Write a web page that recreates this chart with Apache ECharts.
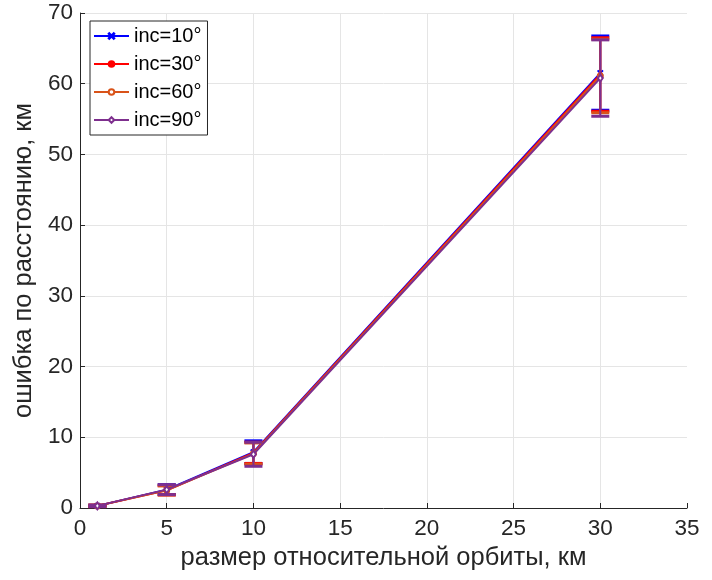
<!DOCTYPE html>
<html>
<head>
<meta charset="utf-8">
<script src="https://cdn.jsdelivr.net/npm/echarts@6/dist/echarts.min.js"></script>
<style>
  html, body { margin: 0; padding: 0; background: #fff; }
  #chart { width: 712px; height: 580px; }
</style>
</head>
<body>
<div id="chart"></div>
<script>
// Relative orbit size, km
const orbitSize = [1, 5, 10, 30];

// Inclination cases
const seriesNames = ['inc=10°', 'inc=30°', 'inc=60°', 'inc=90°'];

// Mean range error, km
const meanInc10 = [0.3, 2.6, 7.9, 61.5];
const meanInc30 = [0.3, 2.5, 7.8, 61.3];
const meanInc60 = [0.3, 2.5, 7.7, 61.1];
const meanInc90 = [0.3, 2.6, 7.6, 60.8];

// Half-width of the error bars, km
const errInc10 = [0.1, 0.7, 1.6, 5.25];
const errInc30 = [0.1, 0.65, 1.5, 5.2];
const errInc60 = [0.1, 0.65, 1.5, 5.2];
const errInc90 = [0.1, 0.7, 1.7, 5.4];

// Axis ticks
const xTicks = [0, 5, 10, 15, 20, 25, 30, 35];
const yTicks = [0, 10, 20, 30, 40, 50, 60, 70];

const colors = ['#0000ff', '#ff0000', '#d95319', '#7e2f8e'];
const means = [meanInc10, meanInc30, meanInc60, meanInc90];
const errs = [errInc10, errInc30, errInc60, errInc90];

const crossPath = 'path://M1,0 L5,4 L9,0 L10,1 L6,5 L10,9 L9,10 L5,6 L1,10 L0,9 L4,5 L0,1 Z';
const symbols = [crossPath, 'circle', 'emptyCircle', 'emptyDiamond'];
const symbolSizes = [5, 4, 5, [5, 7]];

const axisColor = '#262626';
const fontFamily = '"Liberation Sans", Arial, sans-serif';

function errorBarSeries(idx) {
  const color = colors[idx];
  const data = orbitSize.map((x, i) => [x, means[idx][i] - errs[idx][i], means[idx][i] + errs[idx][i]]);
  return {
    type: 'custom',
    name: seriesNames[idx] + ' err',
    data: data,
    encode: { x: 0, y: [1, 2] },
    z: 2 + idx * 2,
    silent: true,
    renderItem: function (params, api) {
      const x = api.value(0);
      const lo = api.coord([x, api.value(1)]);
      const hi = api.coord([x, api.value(2)]);
      const hw = 9;
      const st = { stroke: color, lineWidth: 2 };
      const capSt = { stroke: color, lineWidth: 3 };
      return {
        type: 'group',
        children: [
          { type: 'line', shape: { x1: lo[0], y1: lo[1], x2: hi[0], y2: hi[1] }, style: st },
          { type: 'line', shape: { x1: lo[0] - hw, y1: lo[1], x2: lo[0] + hw, y2: lo[1] }, style: capSt },
          { type: 'line', shape: { x1: hi[0] - hw, y1: hi[1], x2: hi[0] + hw, y2: hi[1] }, style: capSt }
        ]
      };
    }
  };
}

function lineSeries(idx) {
  return {
    type: 'line',
    name: seriesNames[idx],
    data: orbitSize.map((x, i) => [x, means[idx][i]]),
    symbol: symbols[idx],
    symbolSize: symbolSizes[idx],
    showAllSymbol: true,
    z: 3 + idx * 2,
    color: colors[idx],
    lineStyle: { color: colors[idx], width: 2 },
    itemStyle: { color: colors[idx], borderColor: colors[idx], borderWidth: 1.2 },
    emphasis: { disabled: true }
  };
}

const series = [];
for (let i = 0; i < 4; i++) {
  series.push(errorBarSeries(i));
  series.push(lineSeries(i));
}

const chart = echarts.init(document.getElementById('chart'), null, { renderer: 'canvas' });
chart.setOption({
  animation: false,
  backgroundColor: '#ffffff',
  textStyle: { fontFamily: fontFamily },
  grid: { left: 80, right: 25, top: 13, bottom: 72, containLabel: false },
  legend: {
    data: seriesNames,
    orient: 'vertical',
    left: 90,
    top: 21,
    itemWidth: 35,
    itemHeight: 7,
    itemGap: 8,
    padding: [5, 6, 5, 3],
    borderColor: axisColor,
    borderWidth: 1,
    backgroundColor: '#ffffff',
    textStyle: { fontSize: 20, color: '#000000', fontFamily: fontFamily }
  },
  xAxis: {
    type: 'value',
    min: xTicks[0],
    max: xTicks[xTicks.length - 1],
    interval: xTicks[1] - xTicks[0],
    name: 'размер относительной орбиты, км',
    nameLocation: 'middle',
    nameGap: 33,
    nameTextStyle: { fontSize: 25.5, color: axisColor, fontFamily: fontFamily },
    axisLine: { show: true, onZero: false, lineStyle: { color: axisColor, width: 1 } },
    axisTick: { show: true, inside: true, length: 5, lineStyle: { color: axisColor } },
    axisLabel: { fontSize: 22.5, color: axisColor, margin: 9, fontFamily: fontFamily },
    splitLine: { show: true, showMinLine: false, showMaxLine: false, lineStyle: { color: '#e5e5e5', width: 1 } }
  },
  yAxis: {
    type: 'value',
    min: yTicks[0],
    max: yTicks[yTicks.length - 1],
    interval: yTicks[1] - yTicks[0],
    name: 'ошибка по расстоянию, км',
    nameLocation: 'middle',
    nameGap: 38,
    nameRotate: 90,
    nameTextStyle: { fontSize: 25.5, color: axisColor, fontFamily: fontFamily },
    axisLine: { show: true, onZero: false, lineStyle: { color: axisColor, width: 1 } },
    axisTick: { show: true, inside: true, length: 5, lineStyle: { color: axisColor } },
    axisLabel: { fontSize: 22.5, color: axisColor, margin: 7, fontFamily: fontFamily },
    splitLine: { show: true, showMinLine: false, showMaxLine: true, lineStyle: { color: '#e5e5e5', width: 1 } }
  },
  series: series
});
</script>
</body>
</html>
